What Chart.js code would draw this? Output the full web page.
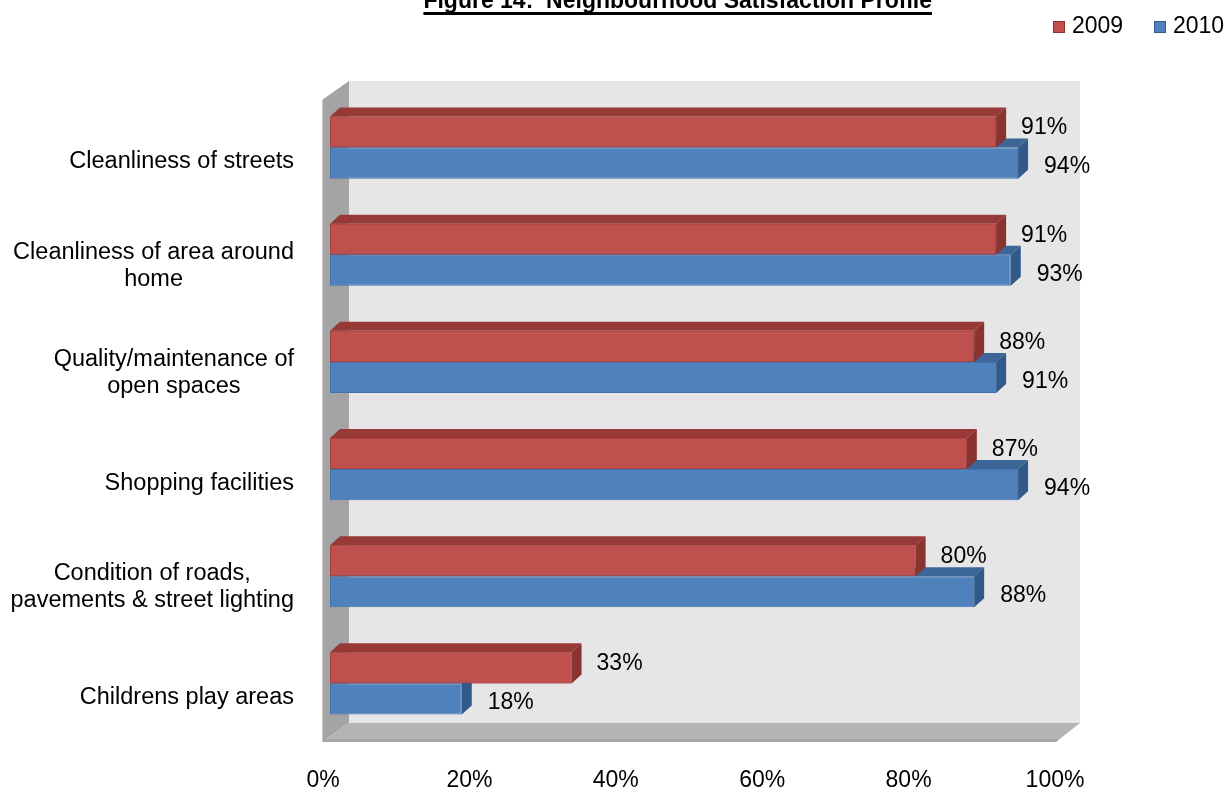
<!DOCTYPE html>
<html>
<head>
<meta charset="utf-8">
<title>Neighbourhood Satisfaction Profile</title>
<script src="https://cdn.jsdelivr.net/npm/chart.js@4.4.0/dist/chart.umd.min.js"></script>
<style>
  html, body { margin: 0; padding: 0; background: #fff; }
  #wrap { position: relative; width: 1225px; height: 790px; }
</style>
</head>
<body>
<div id="wrap"><canvas id="satisfactionChart"></canvas></div>
<script>
// survey results, % satisfied
const categories = [
  ['Cleanliness of streets'],
  ['Cleanliness of area around', 'home'],
  ['Quality/maintenance of', 'open spaces'],
  ['Shopping facilities'],
  ['Condition of roads,', 'pavements & street lighting'],
  ['Childrens play areas']
];
const values2009 = [91, 91, 88, 87, 80, 33];
const values2010 = [94, 93, 91, 94, 88, 18];
const seriesNames = ['2009', '2010'];
const xTicks = [0, 20, 40, 60, 80, 100];
const chartTitle = 'Figure 14:  Neighbourhood Satisfaction Profile';

const FONT = '"Liberation Sans", Arial, Helvetica, sans-serif';
const DX = 10, DY = -9;   // depth offset of the 3d bars

const palette = [
  { front: '#C0504D', border: '#A8423F', top: '#973936', side: '#8A3331' },
  { front: '#4F81BD', border: '#4172AD', top: '#3C6698', side: '#31598A' }
];

function poly(ctx, pts, fill) {
  ctx.beginPath();
  ctx.moveTo(pts[0][0], pts[0][1]);
  for (let i = 1; i < pts.length; i++) ctx.lineTo(pts[i][0], pts[i][1]);
  ctx.closePath();
  ctx.fillStyle = fill;
  ctx.fill();
}

// back wall, side wall and floor behind the plot
const wallsPlugin = {
  id: 'walls',
  beforeDatasetsDraw(chart) {
    const { ctx, chartArea: a } = chart;
    const fl = a.left - 8, bl = a.left + 19;
    const fb = a.bottom + 5, bb = a.bottom - 14;
    const ft = a.top + 6, bt = a.top - 13;
    const fr = a.right - 6, br = a.right + 18;
    ctx.save();
    poly(ctx, [[bl, bt], [br, bt], [br, bb], [bl, bb]], '#e6e6e6');
    poly(ctx, [[fl, ft], [bl, bt], [bl, bb], [fl, fb]], '#a4a4a4');
    poly(ctx, [[fl, fb], [bl, bb], [br, bb], [fr, fb]], '#b4b4b4');
    poly(ctx, [[fl, fb - 3], [fr + 3, fb - 3], [fr, fb], [fl, fb]], '#a6a6a6');
    ctx.strokeStyle = '#c8c8c8';
    ctx.lineWidth = 1;
    ctx.beginPath();
    ctx.moveTo(fl + 0.5, ft); ctx.lineTo(fl + 0.5, fb);
    ctx.stroke();
    ctx.restore();
  }
};

function barFaces(ctx, bar, c) {
  const { x, y, base, height } = bar.getProps(['x', 'y', 'base', 'height'], true);
  const top = y - height / 2, bottom = y + height / 2;
  poly(ctx, [[base, top], [x, top], [x + DX, top + DY], [base + DX, top + DY]], c.top);
  poly(ctx, [[x, top], [x + DX, top + DY], [x + DX, bottom + DY], [x, bottom]], c.side);
}

// top and end faces; 2010 first so the 2009 bar sits over its top face
const bar3dPlugin = {
  id: 'bar3d',
  afterDatasetsDraw(chart) {
    const ctx = chart.ctx;
    const m09 = chart.getDatasetMeta(0), m10 = chart.getDatasetMeta(1);
    ctx.save();
    for (let i = 0; i < categories.length; i++) {
      barFaces(ctx, m10.data[i], palette[1]);
      m09.data[i].draw(ctx);
      barFaces(ctx, m09.data[i], palette[0]);
    }
    ctx.restore();
  }
};

const labelsPlugin = {
  id: 'labels',
  afterDraw(chart) {
    const { ctx } = chart;
    const yScale = chart.scales.y;
    ctx.save();
    ctx.fillStyle = '#000';

    // category names: block right aligned, lines centred on each other
    ctx.font = '23.5px ' + FONT;
    ctx.textBaseline = 'middle';
    ctx.textAlign = 'center';
    const lh = 27;
    categories.forEach((lines, i) => {
      const cy = yScale.getPixelForValue(i) + (lines.length > 1 ? 11 : 14);
      const w = Math.max(...lines.map(l => ctx.measureText(l).width));
      const cx = 294 - w / 2;
      lines.forEach((l, k) => {
        ctx.fillText(l, cx, cy + (k - (lines.length - 1) / 2) * lh);
      });
    });

    // value labels at the bar ends
    ctx.font = '23px ' + FONT;
    ctx.textAlign = 'left';
    chart.data.datasets.forEach((ds, d) => {
      const meta = chart.getDatasetMeta(d);
      meta.data.forEach((bar, i) => {
        const { x, y } = bar.getProps(['x', 'y'], true);
        ctx.fillText(ds.data[i] + '%', x + (d === 0 ? 25 : 26), y + (d === 0 ? -4 : 4));
      });
    });

    // legend
    const legendX = [1053, 1154];
    seriesNames.forEach((name, d) => {
      const lx = legendX[d];
      ctx.fillStyle = palette[d].front;
      ctx.fillRect(lx, 21, 12, 12);
      ctx.strokeStyle = palette[d].side;
      ctx.lineWidth = 1;
      ctx.strokeRect(lx + 0.5, 21.5, 11, 11);
      ctx.fillStyle = '#000';
      ctx.fillText(name, lx + 19, 27);
    });

    // title, mostly above the top edge
    ctx.font = 'bold 23px ' + FONT;
    ctx.textAlign = 'right';
    ctx.textBaseline = 'alphabetic';
    const tw = ctx.measureText(chartTitle).width;
    ctx.fillText(chartTitle, 932, 8);
    ctx.fillRect(932 - tw, 12, tw, 3);
    ctx.restore();
  }
};

new Chart(document.getElementById('satisfactionChart'), {
  type: 'bar',
  data: {
    labels: categories,
    datasets: [
      {
        label: seriesNames[0],
        data: values2009,
        backgroundColor: palette[0].front,
        borderColor: palette[0].border,
        borderWidth: 1,
        borderSkipped: false
      },
      {
        label: seriesNames[1],
        data: values2010,
        backgroundColor: palette[1].front,
        borderColor: palette[1].border,
        borderWidth: 1,
        borderSkipped: false
      }
    ]
  },
  options: {
    indexAxis: 'y',
    responsive: true,
    maintainAspectRatio: false,
    animation: false,
    categoryPercentage: 0.58,
    barPercentage: 1,
    layout: { padding: { left: 330, right: 163, top: 94, bottom: 0 } },
    scales: {
      x: {
        min: 0,
        max: 100,
        grid: { display: false, drawTicks: false },
        border: { display: false },
        afterBuildTicks: axis => { axis.ticks = xTicks.map(v => ({ value: v })); },
        afterFit: axis => { axis.height = 53; },
        ticks: {
          padding: 30,
          labelOffset: -7,
          color: '#000',
          font: { family: FONT, size: 23 },
          callback: v => v + '%'
        }
      },
      y: {
        display: false
      }
    },
    plugins: {
      legend: { display: false },
      tooltip: { enabled: false }
    }
  },
  plugins: [wallsPlugin, bar3dPlugin, labelsPlugin]
});
</script>
</body>
</html>
